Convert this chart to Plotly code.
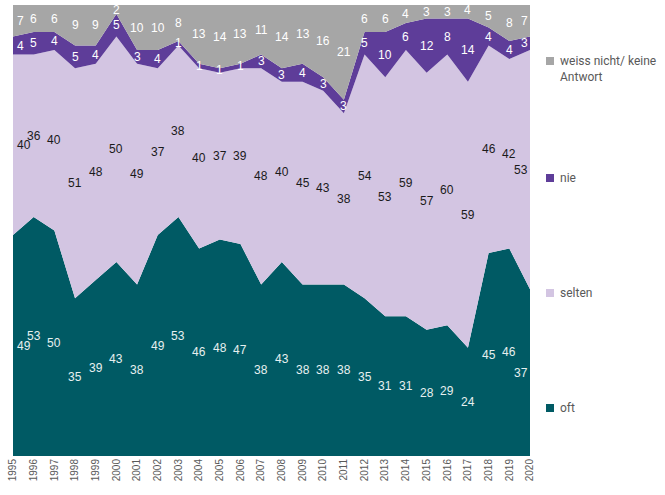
import plotly.graph_objects as go

years = list(range(1995, 2021))
oft = [49, 53, 50, 35, 39, 43, 38, 49, 53, 46, 48, 47, 38, 43, 38, 38, 38, 35, 31, 31, 28, 29, 24, 45, 46, 37]
selten = [40, 36, 40, 51, 48, 50, 49, 37, 38, 40, 37, 39, 48, 40, 45, 43, 38, 54, 53, 59, 57, 60, 59, 46, 42, 53]
nie = [4, 5, 4, 5, 4, 5, 3, 4, 1, 1, 1, 1, 3, 3, 4, 3, 3, 5, 10, 6, 12, 8, 14, 4, 4, 3]
weiss = [7, 6, 6, 9, 9, 2, 10, 10, 8, 13, 14, 13, 11, 14, 13, 16, 21, 6, 6, 4, 3, 3, 4, 5, 8, 7]

series = [
    ("oft", oft, "#005a64", "#e6f0f0"),
    ("selten", selten, "#d3c5e2", "#1a1a1a"),
    ("nie", nie, "#5e3d99", "#ffffff"),
    ("weiss nicht/ keine<br>Antwort", weiss, "#a6a6a6", "#ffffff"),
]

W, H = 665, 495
ML, MR, MT, MB = 13, 135, 5, 39
PW = W - ML - MR
PH = H - MT - MB

fig = go.Figure()
for name, vals, col, _ in series:
    fig.add_trace(go.Scatter(
        x=years, y=vals, stackgroup="one", mode="lines",
        line=dict(width=0, color=col), fillcolor=col,
        name=name, showlegend=False, hoverinfo="skip",
    ))

annotations = []
base = [0] * len(years)
for name, vals, col, tcol in series:
    for i, (yr, v) in enumerate(zip(years, vals)):
        mid = min(base[i] + v / 2, 99.3)
        xa = "center"
        xs = 0
        if i == 0:
            xa, xs = "left", 2
        elif i == len(years) - 1:
            xa, xs = "right", 0
        annotations.append(dict(
            x=yr, y=mid, xref="x", yref="y", text=str(v), showarrow=False,
            xanchor=xa, yanchor="middle", xshift=xs,
            font=dict(family="Liberation Sans, Arial, sans-serif", size=12, color=tcol),
        ))
        base[i] += v

# legend (custom positioned)
shapes = []
legend_items = [
    ("weiss nicht/ keine<br>Antwort", "#a6a6a6", 61, 69),
    ("nie", "#5e3d99", 178, 178),
    ("selten", "#d3c5e2", 293, 293),
    ("oft", "#005a64", 408, 408),
]
def px2x(px):
    return (px - ML) / PW
def px2y(py):
    return (H - MB - py) / PH

for text, col, sq_y, txt_y in legend_items:
    shapes.append(dict(
        type="rect", xref="paper", yref="paper",
        x0=px2x(546), x1=px2x(554), y0=px2y(sq_y + 4), y1=px2y(sq_y - 4),
        fillcolor=col, line=dict(width=0),
    ))
    annotations.append(dict(
        x=px2x(558), y=px2y(txt_y), xref="paper", yref="paper", text=text,
        showarrow=False, xanchor="left", yanchor="middle", align="left",
        font=dict(family="Roboto, Arial, sans-serif", size=12, color="#595959"),
    ))

fig.update_layout(
    width=W, height=H,
    margin=dict(l=ML, r=MR, t=MT, b=MB),
    paper_bgcolor="white", plot_bgcolor="white",
    showlegend=False,
    annotations=annotations, shapes=shapes,
    xaxis=dict(
        range=[1995, 2020], tickmode="array", tickvals=years,
        ticktext=[str(y) for y in years], tickangle=-90,
        tickfont=dict(family="Liberation Sans, Arial, sans-serif", size=10, color="#595959"),
        showgrid=False, zeroline=False, showline=False, ticks="",
    ),
    yaxis=dict(range=[0, 100], visible=False, showgrid=False, zeroline=False),
)

fig.write_html(
    "out.html",
    config={"displayModeBar": False},
    post_script="document.body.style.margin='0';document.body.style.overflow='hidden';",
)
